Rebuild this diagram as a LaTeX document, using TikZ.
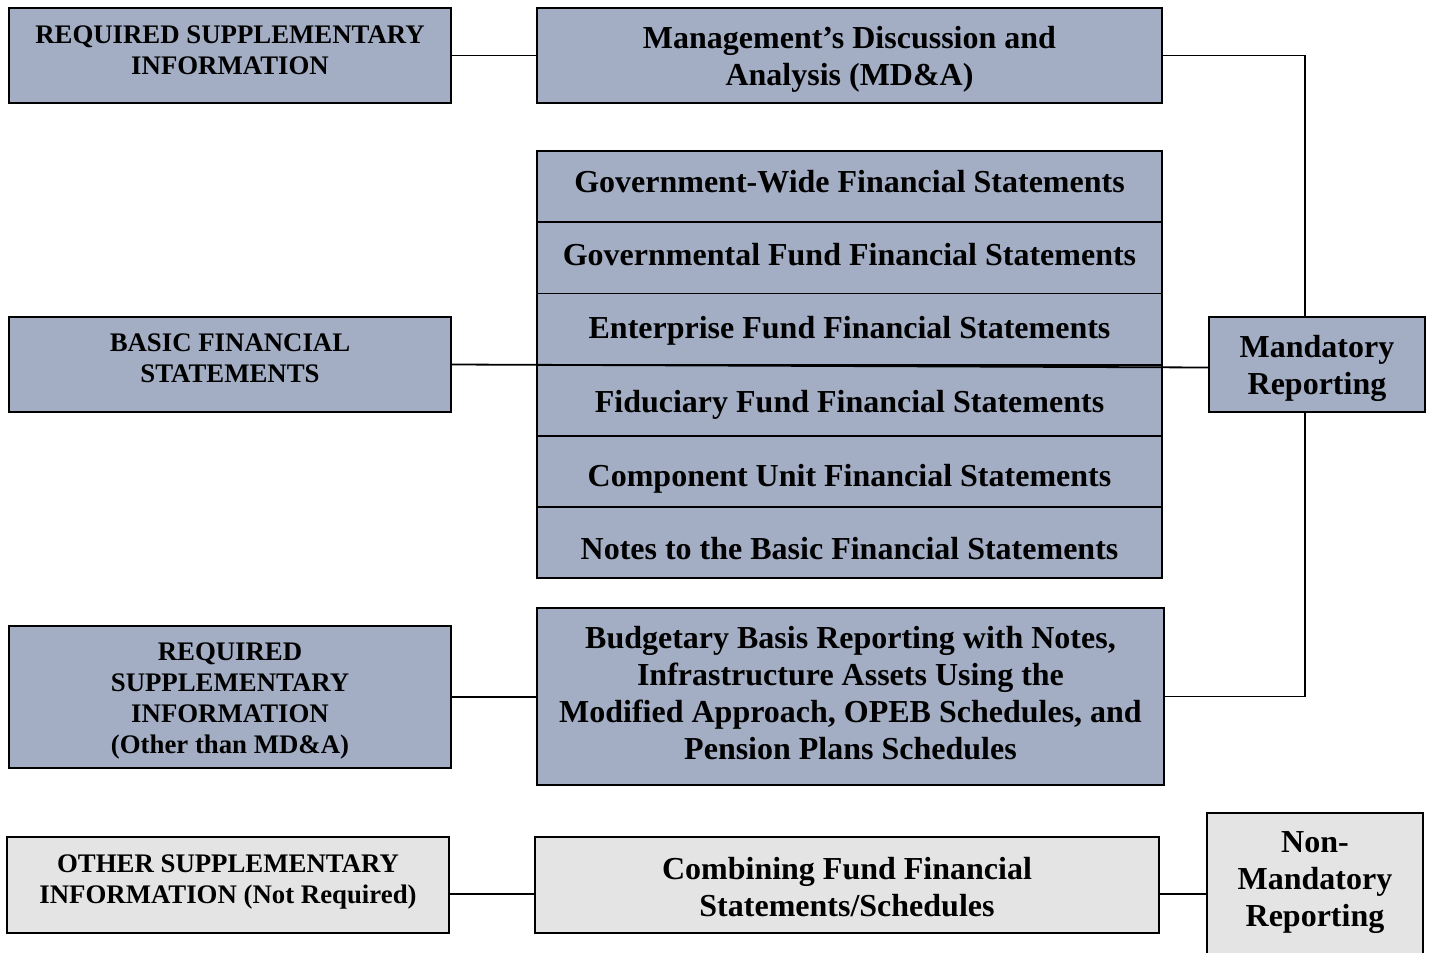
\documentclass[tikz,border=0pt]{standalone}
\usepackage{fontspec}
\setmainfont{Liberation Serif}
\definecolor{boxblue}{HTML}{A3AEC4}
\definecolor{boxgrey}{HTML}{E4E4E4}
\begin{document}
\begin{tikzpicture}[x=1pt,y=-1pt,
  base/.style={draw=black, line width=1.8pt, rectangle, inner sep=0pt},
  bluebox/.style={base, fill=boxblue},
  greybox/.style={base, fill=boxgrey},
  small/.style={align=center, inner sep=0pt, font=\bfseries\fontsize{26.8}{31}\selectfont},
  big/.style={align=center, inner sep=0pt, font=\bfseries\fontsize{32}{37}\selectfont},
  link/.style={draw=black, line width=1.8pt}]
\useasboundingbox (0,0) rectangle (1430,953);
% left column
\node[bluebox, minimum width=442pt, minimum height=95pt] (rsi) at (230,55.5) {};
\node[small] (rsi-t) at ([yshift=5pt]rsi.center) {REQUIRED SUPPLEMENTARY\\INFORMATION};
\node[bluebox, minimum width=442pt, minimum height=95pt] (bfs) at (230,364.5) {};
\node[small] (bfs-t) at ([yshift=6pt]bfs.center) {BASIC FINANCIAL\\STATEMENTS};
\node[bluebox, minimum width=442pt, minimum height=142pt] (rsio) at (230,697) {};
\node[small] (rsio-t) at ([yshift=-4pt]rsio.center) {REQUIRED\\SUPPLEMENTARY\\INFORMATION\\(Other than MD\&A)};
\node[greybox, minimum width=442pt, minimum height=96pt] (osi) at (228,885) {};
\node[small] (osi-t) at ([yshift=3pt]osi.center) {OTHER SUPPLEMENTARY\\INFORMATION (Not Required)};
% middle column
\node[bluebox, minimum width=625pt, minimum height=95pt] (mda) at (849.5,55.5) {};
\node[big] (mda-t) at ([yshift=-4pt]mda.center) {Management’s Discussion and\\Analysis (MD\&A)};
\node[bluebox, minimum width=625pt, minimum height=71.2pt] (gw) at (849.5,186.6) {};
\node[big] (gw-t) at ([yshift=5pt]gw.center) {Government-Wide Financial Statements};
\node[bluebox, minimum width=625pt, minimum height=71.2pt] (gf) at (849.5,257.8) {};
\node[big] (gf-t) at ([yshift=3pt]gf.center) {Governmental Fund Financial Statements};
\node[bluebox, minimum width=625pt, minimum height=71.2pt] (ef) at (849.5,329.0) {};
\node[big] (ef-t) at ([yshift=-2pt]ef.center) {Enterprise Fund Financial Statements};
\node[bluebox, minimum width=625pt, minimum height=71.2pt] (ff) at (849.5,400.2) {};
\node[big] (ff-t) at ([yshift=-5pt]ff.center) {Fiduciary Fund Financial Statements};
\node[bluebox, minimum width=625pt, minimum height=71.2pt] (cu) at (849.5,471.4) {};
\node[big] (cu-t) at ([yshift=-7pt]cu.center) {Component Unit Financial Statements};
\node[bluebox, minimum width=625pt, minimum height=71.2pt] (nt) at (849.5,542.6) {};
\node[big] (nt-t) at ([yshift=-6pt]nt.center) {Notes to the Basic Financial Statements};
\node[bluebox, minimum width=627pt, minimum height=177pt] (bud) at (850.5,696.5) {};
\node[big] (bud-t) at ([yshift=3pt]bud.center) {Budgetary Basis Reporting with Notes,\\Infrastructure Assets Using the\\Modified Approach, OPEB Schedules, and\\Pension Plans Schedules};
\node[greybox, minimum width=624pt, minimum height=96pt] (cmb) at (847,885) {};
\node[big] (cmb-t) at ([yshift=-2pt]cmb.center) {Combining Fund Financial\\Statements/Schedules};
% right column
\node[bluebox, minimum width=216pt, minimum height=95pt] (man) at (1317,364.5) {};
\node[big] (man-t) at ([yshift=-4pt]man.center) {Mandatory\\Reporting};
\node[greybox, minimum width=216pt, minimum height=144pt] (nman) at (1315,885) {};
\node[big] (nman-t) at ([yshift=2pt]nman.center) {Non-\\Mandatory\\Reporting};
% connectors
\coordinate (tr) at (1305,55.5);
\coordinate (br) at (1305,696.5);
\coordinate (lowy) at (0,894);
\draw[link] (rsi.east) -- (mda.west);
\draw[link] (mda.east) -- (tr) -- (tr |- man.north);
\draw[link] (br |- man.south) -- (br) -- (bud.east);
\draw[link] (bfs.east) -- ([yshift=-3pt]man.west);
\draw[link] (rsio.east) -- (bud.west |- rsio.east);
\draw[link] (osi.east |- lowy) -- (cmb.west |- lowy);
\draw[link] (cmb.east |- lowy) -- (nman.west |- lowy);
\end{tikzpicture}
\end{document}
